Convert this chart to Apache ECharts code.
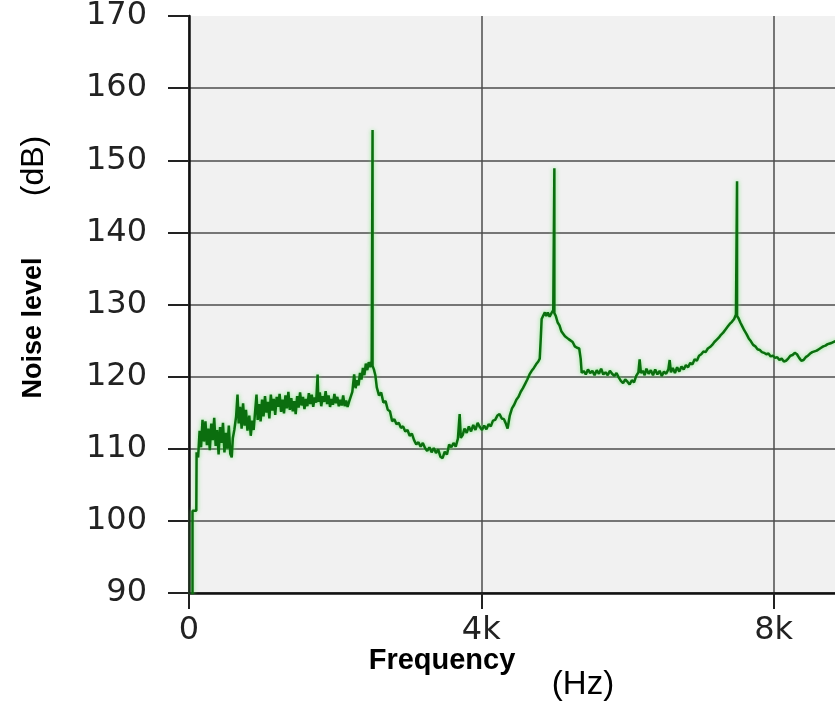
<!DOCTYPE html>
<html>
<head>
<meta charset="utf-8">
<script src="https://cdn.jsdelivr.net/npm/echarts@6/dist/echarts.min.js"></script>
<style>
  html, body { margin: 0; padding: 0; background: #fff; overflow: hidden; }
  /* plot runs past the right edge of the window, like the cropped original */
  #chart { width: 900px; height: 701px; }
</style>
</head>
<body>
<div id="chart"></div>
<script>
// tick labels
var yTicks = [90, 100, 110, 120, 130, 140, 150, 160, 170];
var xTickLabels = ['0', '4k', '8k'];

// spectrum: frequency (Hz) / noise level (dB)
var freqHz = [
  48, 48, 100, 104, 125, 145, 165, 185, 205, 225,
  245, 265, 285, 305, 325, 345, 365, 385, 405, 425,
  445, 465, 485, 505, 525, 545, 565, 585, 600, 620,
  645, 664, 680, 700, 720, 740, 760, 780, 800, 825,
  845, 865, 885, 905, 924, 940, 960, 980, 1000, 1020,
  1040, 1060, 1080, 1100, 1120, 1140, 1160, 1180, 1200, 1220,
  1240, 1260, 1280, 1300, 1320, 1340, 1360, 1380, 1400, 1420,
  1440, 1460, 1480, 1500, 1520, 1540, 1560, 1580, 1600, 1620,
  1640, 1660, 1680, 1700, 1720, 1740, 1760, 1770, 1790, 1810,
  1830, 1850, 1870, 1890, 1910, 1930, 1950, 1970, 1990, 2010,
  2030, 2050, 2070, 2090, 2110, 2130, 2150, 2170, 2190, 2210,
  2235, 2260, 2280, 2300, 2320, 2340, 2360, 2380, 2400, 2420,
  2440, 2460, 2480, 2500, 2512, 2512, 2512, 2530, 2550, 2570,
  2600, 2630, 2660, 2690, 2720, 2750, 2780, 2810, 2840, 2870,
  2900, 2930, 2960, 2990, 3020, 3050, 3080, 3110, 3140, 3170,
  3200, 3230, 3260, 3290, 3320, 3350, 3380, 3410, 3440, 3470,
  3500, 3530, 3560, 3590, 3620, 3650, 3680, 3704, 3720, 3745,
  3770, 3800, 3830, 3860, 3890, 3920, 3950, 3980, 4010, 4040,
  4070, 4100, 4130, 4160, 4190, 4220, 4250, 4280, 4310, 4340,
  4360, 4390, 4420, 4450, 4480, 4510, 4540, 4570, 4600, 4630,
  4660, 4690, 4720, 4750, 4780, 4800, 4815, 4826, 4850, 4870,
  4890, 4910, 4935, 4960, 4985, 5000, 5000, 5000, 5020, 5045,
  5070, 5095, 5120, 5145, 5170, 5195, 5220, 5250, 5280, 5310,
  5340, 5360, 5374, 5400, 5430, 5460, 5490, 5520, 5550, 5580,
  5610, 5640, 5670, 5700, 5730, 5760, 5790, 5820, 5850, 5880,
  5910, 5940, 5970, 6000, 6030, 6060, 6090, 6120, 6150, 6167,
  6185, 6210, 6236, 6260, 6290, 6320, 6350, 6380, 6410, 6440,
  6470, 6500, 6530, 6560, 6578, 6595, 6620, 6650, 6680, 6710,
  6740, 6770, 6800, 6830, 6860, 6890, 6920, 6950, 6980, 7010,
  7040, 7070, 7100, 7130, 7160, 7190, 7220, 7250, 7280, 7310,
  7340, 7370, 7400, 7430, 7460, 7485, 7500, 7500, 7500, 7520,
  7545, 7570, 7600, 7630, 7660, 7690, 7720, 7750, 7780, 7810,
  7840, 7870, 7900, 7930, 7960, 7990, 8020, 8050, 8080, 8110,
  8140, 8170, 8200, 8230, 8260, 8290, 8320, 8350, 8380, 8410,
  8440, 8470, 8500, 8530, 8560, 8590, 8620, 8650, 8680, 8710,
  8740, 8770, 8800, 8840, 8900
];
var levelDb = [
  80, 101.4, 101.4, 109.5, 108.8, 112.5, 110.2, 114, 111, 113.8,
  110.5, 112.8, 109.8, 113.5, 111.2, 114.3, 110.4, 112.6, 109.2, 113,
  110.8, 113.6, 109.5, 112.2, 110, 113.2, 109.3, 108.8, 111.5, 112.6,
  114.5, 117.5, 113.5, 115.8, 112.8, 116.3, 113.2, 115.4, 112.5, 114.6,
  111.8, 113.9, 112.6, 115.2, 117.5, 114, 116.2, 113.8, 116.8, 114.5,
  117.3, 115, 116.5, 114.2, 117.5, 115.3, 116.9, 114.7, 117.2, 115.8,
  117.6, 115.1, 116.8, 114.9, 117.4, 115.6, 117.9, 115.4, 117, 115.2,
  116.6, 114.8, 117.3, 115.7, 117.8, 116, 117.2, 115.5, 116.9, 115.9,
  117.7, 116.2, 117.5, 115.8, 117.1, 116.4, 120.3, 116.5, 117.8, 115.9,
  117.3, 116.5, 118, 116.2, 117.4, 115.8, 116.9, 116.1, 117.6, 116.3,
  117.2, 115.9, 116.8, 116, 117.4, 115.9, 116.7, 115.8, 116.5, 116.6,
  117.9, 120.3, 118.4, 119.5, 118.8, 120.5, 119.6, 121.2, 120.2, 121.8,
  120.9, 122, 121.3, 122.2, 122.4, 154.2, 121.5, 121, 120.2, 118.5,
  117.4, 117.8, 116.4, 116.6, 115.4, 115.2, 113.8, 114.1, 113.4, 113.6,
  112.9, 113.1, 112.4, 112.6, 111.8, 112.1, 111.2, 110.6, 110.9, 110.3,
  110.8, 110.1, 109.7, 110.2, 109.5, 110.1, 109.4, 109.9, 108.9, 108.7,
  109.6, 109.2, 110.6, 110.2, 110.8, 110.3, 111.4, 114.8, 111.5, 111.9,
  112.8, 112.2, 113.1, 112.4, 113.3, 112.6, 113.6, 113, 112.6, 113.2,
  112.7, 113.4, 113.1, 113.9, 114, 114.6, 114.8, 114.2, 114.1, 113.4,
  112.8, 114.6, 115.6, 116.1, 116.8, 117.2, 117.9, 118.4, 119, 119.6,
  120.3, 120.8, 121.2, 121.7, 122.1, 122.5, 125.5, 128, 128.5, 128.9,
  128.4, 128.9, 128.3, 128.8, 129.2, 129, 148.9, 128.8, 128.4, 127.5,
  127.1, 126.3, 126.2, 125.6, 125.8, 125.2, 125, 124.8, 124.2, 124,
  123.9, 122.5, 120.5, 120.8, 120.3, 121, 120.5, 120.8, 120.2, 120.9,
  120.4, 121.1, 120.3, 120.6, 120.2, 120.8, 120.4, 120.1, 120.5, 119.9,
  119.4, 119.1, 119.6, 119.3, 118.9, 119.5, 119.2, 120.1, 120.6, 122.4,
  120.5, 120.8, 120.2, 121.1, 120.4, 120.9, 120.2, 121, 120.3, 120.8,
  120.1, 120.7, 120.4, 121, 122.3, 120.6, 121.2, 120.5, 121.3, 120.7,
  121.4, 121, 121.6, 121.3, 121.9, 121.7, 122.4, 122.2, 122.9, 123.1,
  123.5, 123.4, 123.9, 124.1, 124.4, 124.8, 125.1, 125.4, 125.8, 126.1,
  126.5, 126.9, 127.3, 127.6, 128, 128.6, 128.7, 147.1, 128.4, 128.1,
  127.5, 127, 126.4, 125.9, 125.3, 124.9, 124.4, 124.2, 123.8, 123.7,
  123.4, 123.3, 123.1, 123.2, 122.8, 122.9, 122.6, 122.7, 122.3, 122.5,
  122.1, 122.2, 122.5, 122.9, 123, 123.3, 123.1, 122.6, 122.2, 122.3,
  122.7, 122.9, 123.2, 123.4, 123.5, 123.6, 123.8, 124, 124.2, 124.3,
  124.5, 124.6, 124.7, 124.9, 125
];

var chart = echarts.init(document.getElementById('chart'));

var points = freqHz.map(function (f, i) { return [f, levelDb[i]]; });
// no grid line at the top tick
var gridColors = yTicks.map(function (v, i) {
  return i === yTicks.length - 1 ? 'rgba(0,0,0,0)' : '#4d4d4d';
});

chart.setOption({
  animation: false,
  grid: {
    left: 189,
    top: 12,
    right: 0,
    bottom: 108,
    show: true,
    backgroundColor: '#f1f1f1',
    borderWidth: 0
  },
  xAxis: {
    type: 'value',
    min: 0,
    max: 9730,
    interval: 4000,
    axisLine: { show: true, lineStyle: { color: '#111', width: 2.5 } },
    axisTick: { show: true, length: 16, lineStyle: { color: '#222', width: 2 } },
    axisLabel: {
      margin: 22,
      color: '#222',
      fontFamily: 'DejaVu Sans',
      fontSize: 32,
      showMaxLabel: false,
      formatter: function (v) { return xTickLabels[v / 4000] || ''; }
    },
    splitLine: { show: true, lineStyle: { color: '#4d4d4d', width: 1.5 } }
  },
  yAxis: {
    type: 'value',
    min: yTicks[0],
    max: yTicks[yTicks.length - 1],
    interval: 10,
    axisLine: { show: true, lineStyle: { color: '#111', width: 2.5 } },
    axisTick: { show: true, length: 21, lineStyle: { color: '#222', width: 2 } },
    axisLabel: {
      margin: 42,
      color: '#222',
      fontFamily: 'DejaVu Sans',
      fontSize: 32
    },
    splitLine: { show: true, lineStyle: { color: gridColors, width: 1.5 } }
  },
  graphic: [
    {
      type: 'text', x: 34, y: 328, rotation: Math.PI / 2,
      style: { text: 'Noise level', textAlign: 'center', textVerticalAlign: 'middle',
        font: 'bold 27px "Liberation Sans", Arial, sans-serif', fill: '#000' }
    },
    {
      type: 'text', x: 34, y: 166, rotation: Math.PI / 2,
      style: { text: '(dB)', textAlign: 'center', textVerticalAlign: 'middle',
        font: '32px "Liberation Sans", Arial, sans-serif', fill: '#000' }
    },
    {
      type: 'text', x: 442, y: 661,
      style: { text: 'Frequency', textAlign: 'center', textVerticalAlign: 'middle',
        font: 'bold 29px "Liberation Sans", Arial, sans-serif', fill: '#000' }
    },
    {
      type: 'text', x: 583, y: 685,
      style: { text: '(Hz)', textAlign: 'center', textVerticalAlign: 'middle',
        font: '33px "Liberation Sans", Arial, sans-serif', fill: '#000' }
    }
  ],
  series: [{
    type: 'line',
    data: points,
    showSymbol: false,
    clip: true,
    lineStyle: {
      color: '#0b6e0f',
      width: 2.5,
      shadowColor: 'rgba(90,230,90,0.7)',
      shadowBlur: 4
    }
  }]
});
</script>
</body>
</html>
